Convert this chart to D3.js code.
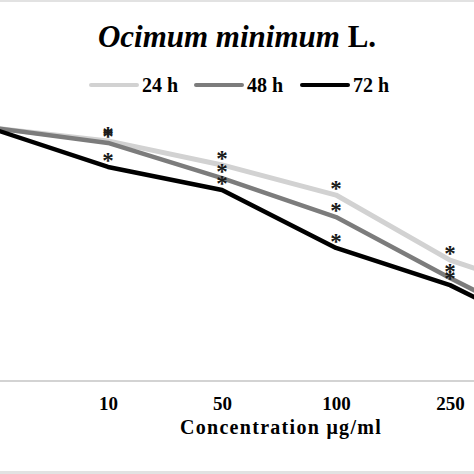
<!DOCTYPE html>
<html>
<head>
<meta charset="utf-8">
<script src="https://cdn.jsdelivr.net/npm/d3@7"></script>
<style>
html,body{margin:0;padding:0;background:#fff;}
svg{display:block;}
</style>
</head>
<body>
<svg id="chart" width="474" height="474"></svg>
<script>
// ---- data ----
const categories = ["0", "10", "50", "100", "250", "500"];
const seriesNames = ["24 h", "48 h", "72 h"];
const values24 = [100, 94.9, 85.4, 73.5, 47.8, 32.8];
const values48 = [100, 94.1, 80.2, 64.8, 40.7, 18.0];
const values72 = [99.5, 84.6, 75.5, 52.6, 37.9, 15.4];
// significance markers (true = asterisk shown)
const sig24 = [false, true, true, true, true, true];
const sig48 = [false, true, true, true, true, true];
const sig72 = [false, true, true, true, true, true];
const titleItalic = "Ocimum minimum";
const titleRoman = " L.";
const xTitle = "Concentration \u03bcg/ml";

const seriesColors = ["#d2d2d2", "#7c7c7c", "#000000"];
const seriesWidths = [5, 4.5, 4.5];

const W = 474, H = 474;
const svg = d3.select("#chart");
const font = "'Liberation Serif','Times New Roman',serif";

// framing bands (image edges)
svg.append("rect").attr("x",0).attr("y",0).attr("width",W).attr("height",2).attr("fill","#e2e2e2");
svg.append("rect").attr("x",0).attr("y",471).attr("width",W).attr("height",3).attr("fill","#e2e2e2");

const x = d3.scalePoint().domain(categories).range([-6, 564]);
const y = d3.scaleLinear().domain([0, 100]).range([381, 128]);
const inView = c => x(c) > 10 && x(c) < W - 10;

// x axis line
svg.append("line").attr("x1",0).attr("x2",W).attr("y1",y(0)).attr("y2",y(0))
  .attr("stroke","#c4c4c4").attr("stroke-width",1.5);

// tick labels via axis (only the ones inside the visible crop)
const xAxis = d3.axisBottom(x).tickSize(0).tickPadding(0)
  .tickValues(categories.filter(inView));
const gx = svg.append("g").attr("transform", `translate(0,${y(0)})`).call(xAxis);
gx.select(".domain").remove();
gx.selectAll("text")
  .attr("font-family", font).attr("font-weight","bold").attr("font-size","19px")
  .attr("fill","#000").attr("dy",null).attr("y", 29);

// x title
svg.append("text").attr("x", 281).attr("y", 434).attr("text-anchor","middle")
  .attr("font-family", font).attr("font-weight","bold").attr("font-size","20px")
  .attr("letter-spacing","1.3px")
  .text(xTitle);

// lines
const data = [values24, values48, values72];
const sigs = [sig24, sig48, sig72];
const line = d3.line().x((d,i)=>x(categories[i])).y(d=>y(d));
data.forEach((vals, k) => {
  svg.append("path").datum(vals).attr("d", line)
    .attr("fill","none").attr("stroke", seriesColors[k])
    .attr("stroke-width", seriesWidths[k]).attr("stroke-linejoin","round");
});

// asterisks
data.forEach((vals, k) => {
  vals.forEach((v, i) => {
    if (!sigs[k][i] || !inView(categories[i])) return;
    svg.append("text").attr("x", x(categories[i])).attr("y", y(v) + 1)
      .attr("text-anchor","middle").attr("font-family", font)
      .attr("font-size","23px").attr("font-weight","bold").attr("fill","#1a1a1a")
      .text("*");
  });
});

// title
const t = svg.append("text").attr("x", 237).attr("y", 47).attr("text-anchor","middle")
  .attr("font-family", font).attr("font-weight","bold").attr("font-size","31px");
t.append("tspan").attr("font-style","italic").text(titleItalic);
t.append("tspan").text(titleRoman);

// legend
const legX = [91, 196, 302];
seriesNames.forEach((name, k) => {
  svg.append("line").attr("x1", legX[k]).attr("x2", legX[k] + 46)
    .attr("y1", 85).attr("y2", 85)
    .attr("stroke", seriesColors[k]).attr("stroke-width", 4).attr("stroke-linecap","round");
  svg.append("text").attr("x", legX[k] + 51).attr("y", 92)
    .attr("font-family", font).attr("font-weight","bold").attr("font-size","20px")
    .text(name);
});
</script>
</body>
</html>
